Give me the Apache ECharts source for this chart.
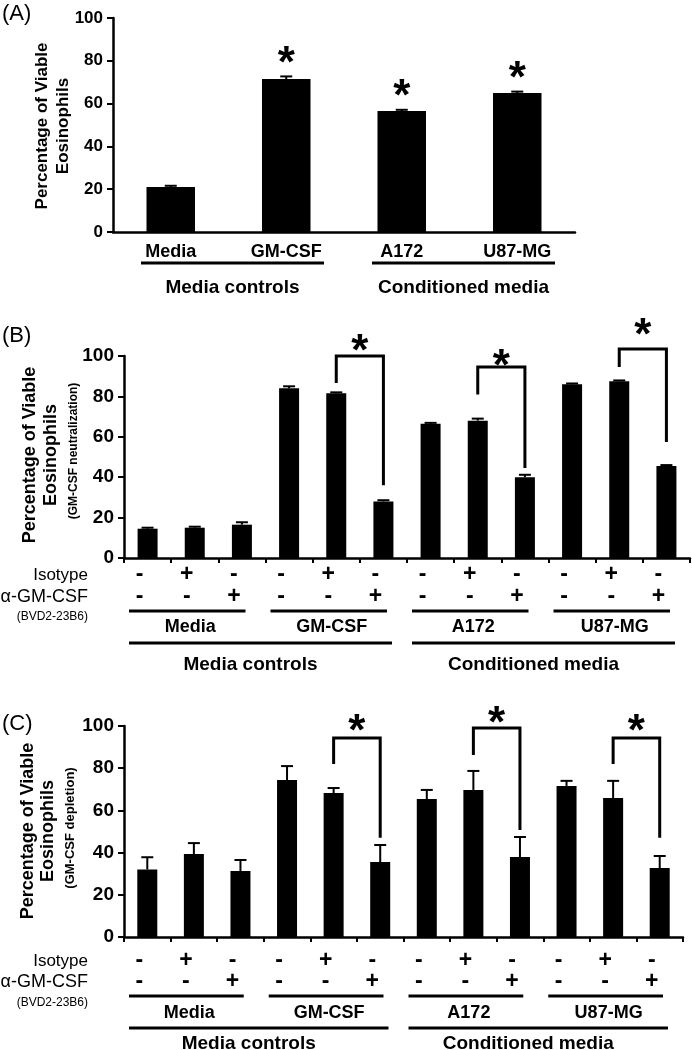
<!DOCTYPE html>
<html><head><meta charset="utf-8">
<script src="https://cdn.jsdelivr.net/npm/echarts@6/dist/echarts.min.js"></script>
<style>html,body{margin:0;padding:0;background:#fff}#c{width:692px;height:1050px}</style>
</head><body><div id="c"></div>
<script>
const FONT = '"Liberation Sans", Arial, sans-serif';

// ---------- Panel A ----------
const categoriesA = ['Media', 'GM-CSF', 'A172', 'U87-MG'];
const valuesA = [21, 71.5, 56.5, 65];
const errorsA = [0.6, 1.2, 0.6, 0.6];
const significantA = [false, true, true, true];
const groupSpansA = [[0, 1], [2, 3]];
const groupNames = ['Media controls', 'Conditioned media'];

// ---------- Panels B and C ----------
const isotypeRow = ['-', '+', '-', '-', '+', '-', '-', '+', '-', '-', '+', '-'];
const antiGmRow  = ['-', '-', '+', '-', '-', '+', '-', '-', '+', '-', '-', '+'];
const subgroupNames = ['Media', 'GM-CSF', 'A172', 'U87-MG'];
const subgroupSpans = [[0, 2], [3, 5], [6, 8], [9, 11]];
const groupSpansBC = [[0, 5], [6, 11]];

const valuesB = [14.5, 15, 16.5, 84, 81.5, 28, 66.5, 68, 40, 86, 87.5, 45.5];
const errorsB = [0.5, 0.5, 1.2, 1.0, 0.5, 0.6, 0.4, 1.0, 1.2, 0.4, 0.4, 0.5];
// [leftCat, rightCat, bracketTop, leftLegEnd, rightLegEnd, starLevel]
const bracketsB = [[4, 5, 100, 86.6, 36, 106.5], [7, 8, 94.5, 81, 44.5, 99], [10, 11, 103.5, 94.5, 57.4, 114.5]];

const valuesC = [32, 39.3, 31.3, 74.4, 68.2, 35.5, 65.4, 69.7, 37.9, 71.6, 65.9, 32.7];
const errorsC = [5.8, 5.2, 5.2, 6.6, 2.4, 8.1, 4.3, 9.0, 9.5, 2.4, 8.1, 5.7];
const bracketsC = [[4, 5, 94.3, 82, 47, 101.4], [7, 8, 99, 86.3, 50.7, 105.2], [10, 11, 94.3, 82, 47, 101.4]];

const yMin = 0, yMax = 100, yStep = 20;

const chart = echarts.init(document.getElementById('c'), null, {renderer: 'canvas'});

function yAxisFor(g, fs) {
  return {
    type: 'value', gridIndex: g, min: yMin, max: yMax, interval: yStep,
    axisLine: {show: true, lineStyle: {color: '#000', width: 2.5}},
    axisTick: {show: true, length: 6, lineStyle: {color: '#000', width: 2}},
    splitLine: {show: false},
    axisLabel: {color: '#000', fontFamily: FONT, fontWeight: 'bold', fontSize: fs, margin: 10}
  };
}

function signAxis(g, margin, lh) {
  return {
    type: 'category', gridIndex: g,
    data: isotypeRow.map((s, i) => s + '\n' + antiGmRow[i]),
    axisLine: {show: true, lineStyle: {color: '#000', width: 2.5}},
    axisTick: {show: true, interval: 0, length: 5, lineStyle: {color: '#000', width: 2}},
    axisLabel: {interval: 0, color: '#000', fontFamily: FONT, fontWeight: 'bold', fontSize: 23,
      lineHeight: lh, margin: margin, padding: [0, 16, 0, 0]}
  };
}

function errorItem(params, api) {
  const x = api.value(0);
  const base = api.coord([x, api.value(1)]);
  const top = api.coord([x, api.value(2)]);
  const cap = 6;
  return {type: 'group', children: [
    {type: 'line', shape: {x1: base[0], y1: base[1], x2: top[0], y2: top[1]}, style: {stroke: '#000', lineWidth: 2}},
    {type: 'line', shape: {x1: top[0] - cap, y1: top[1], x2: top[0] + cap, y2: top[1]}, style: {stroke: '#000', lineWidth: 2}}
  ]};
}

function starText(x, y) {
  return {type: 'text', x: x, y: y,
    style: {text: '*', fill: '#000', font: 'bold 44px ' + FONT, align: 'center', verticalAlign: 'middle'}};
}

function starItemA(params, api) {
  const p = api.coord([api.value(0), api.value(1)]);
  return starText(p[0], p[1] - 12);
}

function bracketItem(params, api) {
  const l = api.value(0), r = api.value(1);
  const lb = api.coord([l, api.value(3)]);
  const lt = api.coord([l, api.value(2)]);
  const rt = api.coord([r, api.value(2)]);
  const rb = api.coord([r, api.value(4)]);
  const st = api.coord([l, api.value(5)]);
  return {type: 'group', children: [
    {type: 'polyline', shape: {points: [lb, lt, rt, rb]}, style: {stroke: '#000', lineWidth: 3, fill: null}},
    starText((lt[0] + rt[0]) / 2, st[1] + 10)
  ]};
}

function spanFactory(names, lineDy, textDy, insetL, insetR, textDx, fs) {
  return function (params, api) {
    const a = api.coord([api.value(0), 0]);
    const b = api.coord([api.value(1), 0]);
    const half = api.size([1, 0])[0] / 2;
    const x1 = a[0] - half + insetL, x2 = b[0] + half - insetR;
    const y = a[1] + lineDy;
    return {type: 'group', children: [
      {type: 'line', shape: {x1: x1, y1: y, x2: x2, y2: y}, style: {stroke: '#000', lineWidth: 3}},
      {type: 'text', x: (x1 + x2) / 2 + textDx, y: a[1] + textDy,
        style: {text: names[params.dataIndex], fill: '#000', font: 'bold ' + fs + 'px ' + FONT, align: 'center', verticalAlign: 'middle'}}
    ]};
  };
}

function bars(g, vals, width) {
  return {type: 'bar', xAxisIndex: g, yAxisIndex: g, data: vals, barWidth: width,
    itemStyle: {color: '#000'}, silent: true, z: 2};
}
function errs(g, vals, errv) {
  return {type: 'custom', xAxisIndex: g, yAxisIndex: g, clip: false, z: 3,
    data: vals.map((v, i) => [i, v, v + errv[i]]), renderItem: errorItem};
}
function custom(g, data, fn) {
  return {type: 'custom', xAxisIndex: g, yAxisIndex: g, clip: false, z: 4, data: data, renderItem: fn};
}

function vtext(x, y, text, fs, bold) {
  return {type: 'text', x: x, y: y, rotation: Math.PI / 2,
    style: {text: text, fill: '#000', font: (bold ? 'bold ' : '') + fs + 'px ' + FONT, align: 'center', verticalAlign: 'middle'}};
}
function htext(x, y, text, fs, align, bold) {
  return {type: 'text', x: x, y: y,
    style: {text: text, fill: '#000', font: (bold ? 'bold ' : '') + fs + 'px ' + FONT, align: align, verticalAlign: 'middle'}};
}

const option = {
  backgroundColor: '#fff',
  animation: false,
  grid: [
    {left: 113, top: 18, width: 462, height: 214},
    {left: 124, top: 356, width: 566, height: 202},
    {left: 124, top: 726, width: 559, height: 211}
  ],
  xAxis: [
    {type: 'category', gridIndex: 0, data: categoriesA,
      axisLine: {show: true, lineStyle: {color: '#000', width: 2.5}},
      axisTick: {show: false},
      axisLabel: {interval: 0, color: '#000', fontFamily: FONT, fontWeight: 'bold', fontSize: 18, margin: 11}},
    signAxis(1, 6, 22),
    signAxis(2, 13, 21)
  ],
  yAxis: [yAxisFor(0, 17), yAxisFor(1, 19), yAxisFor(2, 19)],
  series: [
    bars(0, valuesA, '42%'),
    errs(0, valuesA, errorsA),
    custom(0, significantA.map((s, i) => s ? [i, valuesA[i] + errorsA[i]] : null).filter(d => d), starItemA),
    custom(0, groupSpansA, spanFactory(groupNames, 31, 56, 28, 20, 0, 19)),

    bars(1, valuesB, 20),
    errs(1, valuesB, errorsB),
    custom(1, bracketsB, bracketItem),
    custom(1, subgroupSpans, spanFactory(subgroupNames, 53, 69, 5, 20, 3, 18)),
    custom(1, groupSpansBC, spanFactory(groupNames, 85, 107, 5, 15, -10, 19)),

    bars(2, valuesC, 20),
    errs(2, valuesC, errorsC),
    custom(2, bracketsC, bracketItem),
    custom(2, subgroupSpans, spanFactory(subgroupNames, 59, 76, 5, 20, 3, 18)),
    custom(2, groupSpansBC, spanFactory(groupNames, 91, 107, 5, 15, -10, 19))
  ],
  graphic: [
    htext(2, 14, '(A)', 22, 'left', false),
    htext(2, 336, '(B)', 22, 'left', false),
    htext(2, 724, '(C)', 22, 'left', false),

    vtext(42, 126, 'Percentage of Viable', 17, true),
    vtext(63, 126, 'Eosinophils', 17, true),

    vtext(30, 455, 'Percentage of Viable', 18, true),
    vtext(51, 455, 'Eosinophils', 18, true),
    vtext(74, 451, '(GM-CSF neutralization)', 12, true),

    vtext(28, 831, 'Percentage of Viable', 18, true),
    vtext(48, 831, 'Eosinophils', 18, true),
    vtext(70, 828, '(GM-CSF depletion)', 13, true),

    htext(88, 575, 'Isotype', 17, 'right', false),
    htext(88, 597, '\u03b1-GM-CSF', 18, 'right', false),
    htext(88, 617, '(BVD2-23B6)', 12, 'right', false),

    htext(88, 961, 'Isotype', 17, 'right', false),
    htext(88, 982, '\u03b1-GM-CSF', 18, 'right', false),
    htext(88, 1003, '(BVD2-23B6)', 12, 'right', false)
  ]
};
chart.setOption(option);
</script>
</body></html>
